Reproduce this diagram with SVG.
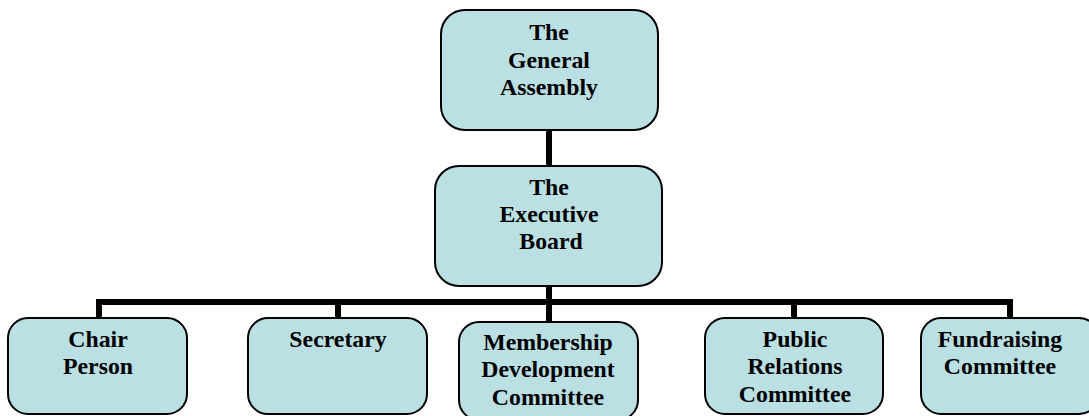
<svg xmlns="http://www.w3.org/2000/svg" width="1089" height="416" viewBox="0 0 1089 416">
<style>
.box{fill:#BBE0E3;stroke:#000;stroke-width:2}
.t{font-family:"Liberation Serif","Times New Roman",serif;font-weight:bold;font-size:23.8px;fill:#000;text-anchor:middle}
.c{stroke:#000;stroke-width:6;fill:none}
</style>
<rect width="1089" height="416" fill="#fff"/>
<g id="connectors">
<line class="c" x1="549" y1="130" x2="549" y2="166"/>
<line class="c" x1="549" y1="286" x2="549" y2="302"/>
<line class="c" x1="96" y1="302" x2="1013" y2="302"/>
<line class="c" x1="99" y1="299" x2="99" y2="318"/>
<line class="c" x1="338" y1="299" x2="338" y2="318"/>
<line class="c" x1="549" y1="299" x2="549" y2="322"/>
<line class="c" x1="794" y1="299" x2="794" y2="318"/>
<line class="c" x1="1010" y1="299" x2="1010" y2="318"/>
</g>
<g id="general-assembly">
<rect class="box" x="441" y="10" width="217" height="120" rx="24"/>
<text class="t" x="549" y="40">The</text>
<text class="t" x="549" y="68">General</text>
<text class="t" x="549" y="95">Assembly</text>
</g>
<g id="executive-board">
<rect class="box" x="435" y="166" width="227" height="120" rx="24"/>
<text class="t" x="549" y="195">The</text>
<text class="t" x="549" y="222">Executive</text>
<text class="t" x="551" y="249">Board</text>
</g>
<g id="chair-person">
<rect class="box" x="8" y="318" width="179" height="96" rx="20"/>
<text class="t" x="98" y="347">Chair</text>
<text class="t" x="98" y="374">Person</text>
</g>
<g id="secretary">
<rect class="box" x="248" y="318" width="179" height="96" rx="20"/>
<text class="t" x="338" y="347">Secretary</text>
</g>
<g id="membership">
<rect class="box" x="459" y="322" width="179" height="98" rx="20"/>
<text class="t" x="548" y="350">Membership</text>
<text class="t" x="548" y="377">Development</text>
<text class="t" x="548" y="405">Committee</text>
</g>
<g id="public-relations">
<rect class="box" x="705" y="318" width="178" height="96" rx="20"/>
<text class="t" x="795" y="347">Public</text>
<text class="t" x="795" y="374">Relations</text>
<text class="t" x="795" y="402">Committee</text>
</g>
<g id="fundraising">
<rect class="box" x="921" y="318" width="178" height="96" rx="20"/>
<text class="t" x="1000" y="347">Fundraising</text>
<text class="t" x="1000" y="374">Committee</text>
</g>
</svg>
